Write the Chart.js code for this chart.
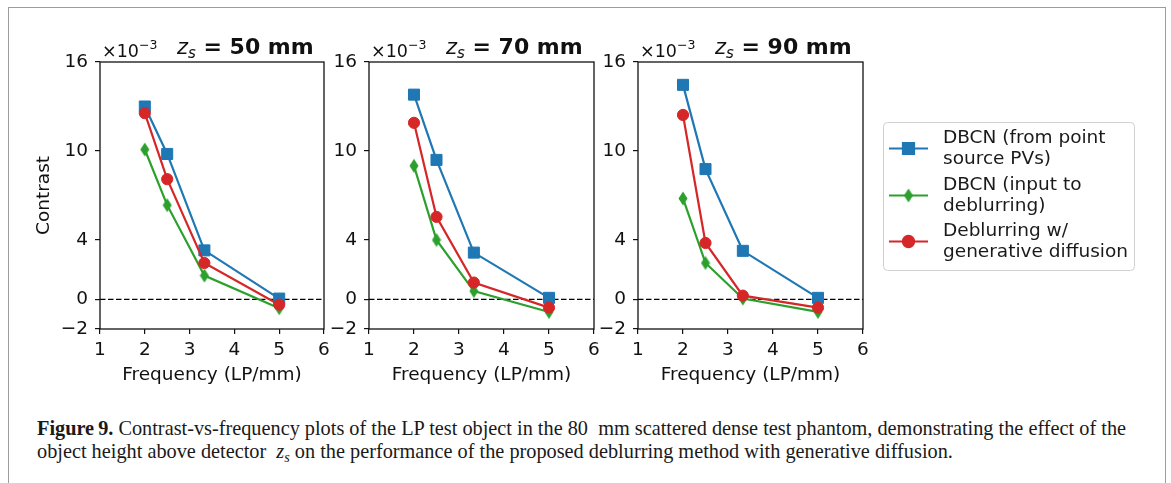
<!DOCTYPE html>
<html>
<head>
<meta charset="utf-8">
<script src="https://cdn.jsdelivr.net/npm/chart.js@4.4.0/dist/chart.umd.min.js"></script>
<style>
  html, body { margin: 0; padding: 0; background: #fff; }
  body { width: 1171px; height: 483px; position: relative; overflow: hidden; }
  #frame { position: absolute; left: 8px; top: 7px; width: 1158px; height: 500px;
           border: 1.5px solid #9c9c9c; box-sizing: border-box; }
  .panel { position: absolute; top: 0; height: 400px; }
  .cap { position: absolute; left: 37px; white-space: nowrap; color: #1a1a1a;
         font-family: "Liberation Serif", serif; font-size: 20px; line-height: 23px; }
  .cap sub { font-size: 0.7em; vertical-align: -0.25em; line-height: 0; }
</style>
</head>
<body>
<div id="frame"></div>
<div class="panel" style="left:10px;width:330px"><canvas id="c50"></canvas></div>
<div class="panel" style="left:320px;width:290px"><canvas id="c70"></canvas></div>
<div class="panel" style="left:590px;width:570px"><canvas id="c90"></canvas></div>
<div class="cap" id="cap1"><b>Figure&#8201;9.</b> Contrast-vs-frequency plots of the LP test object in the 80&nbsp; mm scattered dense test phantom, demonstrating the effect of the</div>
<div class="cap" id="cap2">object height above detector &nbsp;<i>z<sub>s</sub></i> on the performance of the proposed deblurring method with generative diffusion.</div>
<script>
// frequency in LP/mm
const freq = [2, 2.5, 3.33, 5];
// contrast values, in units of 1e-3
const dbcnPoint50 = [13.0, 9.8, 3.3, 0.05];
const dbcnInput50 = [10.1, 6.35, 1.6, -0.6];
const deblur50 = [12.55, 8.1, 2.45, -0.36];
const dbcnPoint70 = [13.8, 9.4, 3.15, 0.1];
const dbcnInput70 = [9.0, 4.0, 0.56, -0.85];
const deblur70 = [11.9, 5.56, 1.13, -0.56];
const dbcnPoint90 = [14.46, 8.78, 3.27, 0.1];
const dbcnInput90 = [6.8, 2.45, 0.05, -0.85];
const deblur90 = [12.43, 3.8, 0.25, -0.56];
const yTicks = [-2, 0, 4, 10, 16];
const xTicks = [1, 2, 3, 4, 5, 6];
const seriesNames = [
  ["DBCN (from point", "source PVs)"],
  ["DBCN (input to", "deblurring)"],
  ["Deblurring w/", "generative diffusion"],
];
const colors = ["#1f77b4", "#2ca02c", "#d62728"];
const FONT = "DejaVu Sans";
const FS = 18.5;

// thin diamond marker (matplotlib 'd')
const diamond = document.createElement("canvas");
diamond.width = 10;
diamond.height = 15;
(function () {
  const c = diamond.getContext("2d");
  c.fillStyle = colors[1];
  c.beginPath();
  c.moveTo(5, 0.5);
  c.lineTo(9.5, 7.5);
  c.lineTo(5, 14.5);
  c.lineTo(0.5, 7.5);
  c.closePath();
  c.fill();
})();
const markers = ["rect", diamond, "circle"];
const markerRadius = [7.8, 7, 5.6];

function series(values, i) {
  return {
    "label": seriesNames[i].join(" "),
    "data": values.map((v, k) => ({ x: freq[k], y: v })),
    "borderColor": colors[i],
    "backgroundColor": colors[i],
    "borderWidth": 2.2,
    "pointStyle": markers[i],
    "pointRadius": markerRadius[i],
    "pointBorderWidth": 1,
    "pointBorderColor": colors[i],
    "pointBackgroundColor": colors[i],
    "order": 2 - i,
    "tension": 0,
  };
}

const axesDeco = {
  id: "axesDeco",
  beforeDatasetsDraw(chart) {
    const { ctx, chartArea: a, scales } = chart;
    const y0 = scales.y.getPixelForValue(0);
    ctx.save();
    ctx.strokeStyle = "#000";
    ctx.lineWidth = 1.3;
    ctx.setLineDash([5.5, 2.5]);
    ctx.beginPath();
    ctx.moveTo(a.left, y0);
    ctx.lineTo(a.right, y0);
    ctx.stroke();
    ctx.restore();
  },
  afterDatasetsDraw(chart) {
    const { ctx, chartArea: a } = chart;
    ctx.save();
    ctx.strokeStyle = "#111";
    ctx.lineWidth = 1.3;
    ctx.strokeRect(a.left, a.top, a.right - a.left, a.bottom - a.top);
    ctx.restore();
  },
  afterDraw(chart) {
    const { ctx, chartArea: a } = chart;
    const zs = chart.options.plugins.axesDeco.zs;
    ctx.save();
    ctx.fillStyle = "#111";
    ctx.textBaseline = "alphabetic";
    // offset text
    let x = a.left + 2;
    ctx.font = "17.5px " + FONT;
    ctx.fillText("\u00d710", x, 57);
    x += ctx.measureText("\u00d710").width;
    ctx.font = "12.5px " + FONT;
    ctx.fillText("\u22123", x, 49);
    // title
    x = a.left + 77;
    ctx.font = "italic 21px " + FONT;
    ctx.fillText("z", x, 54);
    x += ctx.measureText("z").width;
    ctx.font = "italic 15px " + FONT;
    ctx.fillText("s", x, 58);
    x += ctx.measureText("s").width;
    ctx.font = "bold 22px " + FONT;
    ctx.fillText(" = " + zs + " mm", x, 54);
    ctx.restore();
  },
};

const figLegend = {
  id: "figLegend",
  afterDraw(chart) {
    const opts = chart.options.plugins.figLegend;
    if (!opts.show) return;
    const { ctx } = chart;
    const ox = opts.ox;
    ctx.save();
    ctx.beginPath();
    ctx.roundRect(883.5 - ox, 122.5, 251, 148, 4);
    ctx.fillStyle = "rgba(255,255,255,0.8)";
    ctx.fill();
    ctx.strokeStyle = "#d0d0d0";
    ctx.lineWidth = 1;
    ctx.stroke();
    const base = [143, 190, 236];
    chart.data.datasets.forEach((ds, i) => {
      const hy = base[i] + 5.5;
      ctx.strokeStyle = colors[i];
      ctx.lineWidth = 2.2;
      ctx.beginPath();
      ctx.moveTo(889 - ox, hy);
      ctx.lineTo(928 - ox, hy);
      ctx.stroke();
      Chart.helpers.drawPoint(ctx, {
        pointStyle: markers[i],
        radius: markerRadius[i],
        borderWidth: 1,
        rotation: 0,
      }, 908.5 - ox, hy);
      ctx.fillStyle = colors[i];
      ctx.fill();
      ctx.fillStyle = "#1a1a1a";
      ctx.font = FS + "px " + FONT;
      seriesNames[i].forEach((t, k) => ctx.fillText(t, 943 - ox, base[i] + 21 * k));
    });
    ctx.restore();
  },
};

function makeChart(id, zs, data, yw, padRight, showYTitle, legendOx) {
  return new Chart(document.getElementById(id), {
    "type": "line",
    "data": {
      "datasets": data.map((d, i) => series(d, i)),
    },
    "options": {
      "responsive": true,
      "maintainAspectRatio": false,
      "animation": false,
      "events": [],
      "layout": {
        "autoPadding": false,
        "padding": { "top": 62, "bottom": 0, "left": 0, "right": padRight },
      },
      "plugins": {
        "legend": { "display": false },
        "tooltip": { "enabled": false },
        "axesDeco": { "zs": zs },
        "figLegend": { "show": legendOx !== null, "ox": legendOx },
      },
      "scales": {
        "x": {
          "type": "linear",
          "min": 1,
          "max": 6,
          "afterBuildTicks": (s) => { s.ticks = xTicks.map((v) => ({ value: v })); },
          "afterFit": (s) => { s.height = 71; },
          "border": { "display": false },
          "grid": { "drawOnChartArea": false, "drawTicks": true, "tickLength": 5, "color": "#111", "lineWidth": 1.2 },
          "ticks": { "padding": 5, "color": "#111", "font": { "family": FONT, "size": FS } },
          "title": {
            "display": true,
            "text": "Frequency (LP/mm)",
            "color": "#111",
            "font": { "family": FONT, "size": FS },
            "padding": { "top": 0, "bottom": 14 },
          },
        },
        "y": {
          "type": "linear",
          "min": -2,
          "max": 16,
          "afterBuildTicks": (s) => { s.ticks = yTicks.map((v) => ({ value: v })); },
          "afterFit": (s) => { s.width = yw; },
          "border": { "display": false },
          "grid": { "drawOnChartArea": false, "drawTicks": true, "tickLength": 5, "color": "#111", "lineWidth": 1.2 },
          "ticks": {
            "padding": 7,
            "color": "#111",
            "font": { "family": FONT, "size": FS },
            "callback": (v) => (v < 0 ? "\u2212" + Math.abs(v) : String(v)),
          },
          "title": {
            "display": showYTitle,
            "text": "Contrast",
            "color": "#111",
            "font": { "family": FONT, "size": FS },
            "padding": { "top": 23, "bottom": 0 },
          },
        },
      },
    },
    "plugins": [axesDeco, figLegend],
  });
}

makeChart("c50", "50", [dbcnPoint50, dbcnInput50, deblur50], 90, 16, true, null);
makeChart("c70", "70", [dbcnPoint70, dbcnInput70, deblur70], 49, 16, false, null);
makeChart("c90", "90", [dbcnPoint90, dbcnInput90, deblur90], 48, 297, false, 590);

// fit caption lines to the reference widths
function fitCaption() {
  const c1 = document.getElementById("cap1");
  const c2 = document.getElementById("cap2");
  const w = c1.getBoundingClientRect().width;
  const s = 20 * 1090 / w;
  [c1, c2].forEach((el) => { el.style.fontSize = s + "px"; });
  const lead = (23 - 1.107 * s) / 2 + 0.891 * s;
  c1.style.top = (435 - lead) + "px";
  c2.style.top = (458 - lead) + "px";
}
fitCaption();
</script>
</body>
</html>
